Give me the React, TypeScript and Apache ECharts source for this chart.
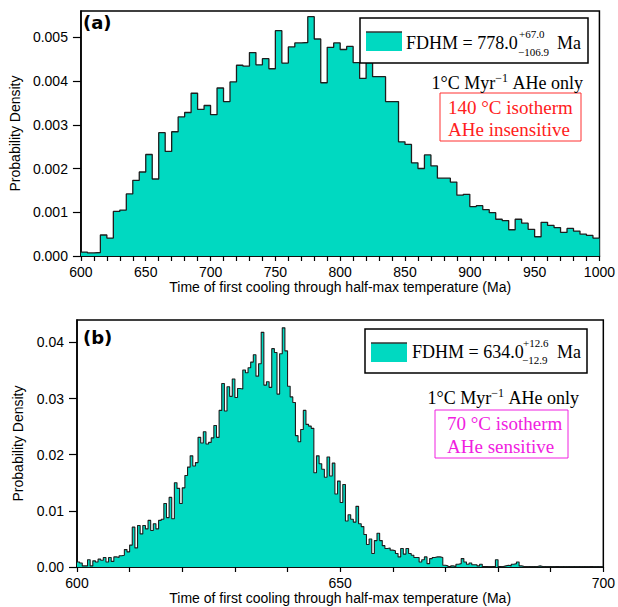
import React, { useRef, useEffect } from 'react'
import * as echarts from 'echarts'

// panel (a): 5 Ma bins from 600 to 1000
const binStartA = 600
const binWidthA = 5
const densityA = [
  0.00009, 0.00007, 0.00008, 0.00048, 0.00041, 0.00102, 0.00105, 0.00142, 0.00173, 0.00192,
  0.00232, 0.00176, 0.00282, 0.00239, 0.00284, 0.00318, 0.00328, 0.00372, 0.00335, 0.00344,
  0.00323, 0.00384, 0.00353, 0.00398, 0.00436, 0.00434, 0.00465, 0.00437, 0.00451, 0.00428,
  0.00515, 0.00441, 0.00478, 0.00487, 0.00488, 0.00547, 0.00496, 0.00396, 0.00477, 0.00487,
  0.00472, 0.00479, 0.00442, 0.00406, 0.00442, 0.0041, 0.0041, 0.00353, 0.00353, 0.00261,
  0.00255, 0.00213, 0.002, 0.00231, 0.00206, 0.00178, 0.00178, 0.00169, 0.00139, 0.00141,
  0.00113, 0.00115, 0.00106, 0.00099, 0.00084, 0.00081, 0.0006, 0.00084, 0.00075, 0.00061,
  0.00044, 0.00077, 0.0007, 0.00065, 0.00054, 0.00063, 0.00057, 0.0005, 0.00047, 0.00041,
]

// panel (b): 0.5 Ma bins from 600 to 700
const binStartB = 600
const binWidthB = 0.5
const densityB = [
  0.0009, 0.0007, 0.0002, 0.0002, 0.0013, 0.0002, 0.0011, 0.0009, 0.0014, 0.0012,
  0.0017, 0.0009, 0.0017, 0.001, 0.0018, 0.0017, 0.002, 0.0021, 0.0031, 0.0027,
  0.0039, 0.0071, 0.0034, 0.0074, 0.0059, 0.0074, 0.0068, 0.0083, 0.0065, 0.0077,
  0.0068, 0.0083, 0.0085, 0.0113, 0.0088, 0.0124, 0.0086, 0.015, 0.014, 0.0113,
  0.0141, 0.0163, 0.0178, 0.0198, 0.018, 0.0186, 0.0231, 0.0221, 0.0241, 0.0219,
  0.0222, 0.023, 0.0252, 0.0231, 0.0279, 0.0327, 0.0278, 0.0321, 0.0304, 0.0335,
  0.0302, 0.0318, 0.0317, 0.0351, 0.0346, 0.0355, 0.0365, 0.0378, 0.034, 0.0362,
  0.0418, 0.0324, 0.033, 0.032, 0.0389, 0.0382, 0.0308, 0.038, 0.0426, 0.0385,
  0.0322, 0.0303, 0.0293, 0.0234, 0.0223, 0.0245, 0.0279, 0.0254, 0.0251, 0.0247,
  0.0168, 0.0198, 0.0184, 0.0174, 0.016, 0.0196, 0.0162, 0.0185, 0.013, 0.0153,
  0.0115, 0.0147, 0.0082, 0.0093, 0.0085, 0.008, 0.0108, 0.0077, 0.0072, 0.0058,
  0.004, 0.005, 0.0024, 0.0047, 0.006, 0.0047, 0.0038, 0.0033, 0.0034, 0.003,
  0.0029, 0.0024, 0.0018, 0.0033, 0.0023, 0.0033, 0.0024, 0.0021, 0.0017, 0.0017,
  0.0009, 0.0013, 0.0018, 0.0006, 0.0015, 0.0017, 0.0018, 0.0018, 0.0017, 0.0003,
  0.0002, 0, 0.0002, 0.0001, 0.0005, 0.0006, 0.0015, 0.0009, 0.0005, 0.0007,
  0.0004, 0.0004, 0.0002, 0.0005, 0, 0, 0.0001, 0, 0, 0.0013,
  0, 0.0001, 0.0002, 0.0003, 0.0002, 0.0005, 0.0006, 0.0009, 0.0002, 0.0001,
  0.0001, 0, 0.0001, 0, 0.0001, 0.0002, 0.0001, 0, 0.0001, 0,
  0.0001, 0, 0, 0.0001, 0, 0.0001, 0, 0.0001, 0, 0.0001,
  0, 0.0001, 0, 0.0001, 0, 0, 0.0001, 0, 0.0001, 0,
]

const xTicksA = [600, 610, 620, 630, 640, 650, 660, 670, 680, 690, 700, 710, 720, 730, 740, 750, 760, 770, 780, 790,
  800, 810, 820, 830, 840, 850, 860, 870, 880, 890, 900, 910, 920, 930, 940, 950, 960, 970, 980, 990, 1000]
const xLabelsA = [600, 650, 700, 750, 800, 850, 900, 950, 1000]
const yTicksA = [0, 0.001, 0.002, 0.003, 0.004, 0.005]

const xTicksB = [600, 610, 620, 630, 640, 650, 660, 670, 680, 690, 700]
const xLabelsB = [600, 650, 700]
const yTicksB = [0, 0.01, 0.02, 0.03, 0.04]

const TEAL = '#00d9c1'
const SANS = '"Liberation Sans", Arial, sans-serif'
const SERIF = '"Liberation Serif", "Times New Roman", serif'

// step outline: points at bin left edges plus the closing right edge
const toSteps = (start: number, width: number, vals: number[]) => {
  const pts = vals.map((v, i) => [start + i * width, v])
  pts.push([start + vals.length * width, vals[vals.length - 1]])
  return pts
}

const App: React.FC = () => {
  const chartRef = useRef<HTMLDivElement>(null)

  useEffect(() => {
    document.body.style.margin = '0'
    if (!chartRef.current) return
    const chart = echarts.init(chartRef.current, undefined, { renderer: 'svg' })

    const xAxisBase = (min: number, max: number, ticks: number[], labels: number[], gridIndex: number) => ({
      type: 'value',
      gridIndex,
      min,
      max,
      name: 'Time of first cooling through half-max temperature (Ma)',
      nameLocation: 'middle',
      nameGap: 23,
      nameTextStyle: { fontFamily: SANS, fontSize: 14, color: '#000' },
      axisLine: { onZero: false, lineStyle: { color: '#000', width: 1.5 } },
      axisTick: { customValues: ticks, length: 5, lineStyle: { color: '#000', width: 1.2 } },
      axisLabel: {
        customValues: labels,
        fontFamily: SANS,
        fontSize: 14,
        color: '#000',
        margin: 9,
        formatter: (v: number) => String(v),
      },
      splitLine: { show: false },
    })

    const yAxisBase = (max: number, ticks: number[], digits: number, gridIndex: number) => ({
      type: 'value',
      gridIndex,
      min: 0,
      max,
      name: 'Probability Density',
      nameLocation: 'middle',
      nameGap: 52,
      nameTextStyle: { fontFamily: SANS, fontSize: 14, color: '#000' },
      axisLine: { show: true, lineStyle: { color: '#000', width: 1.5 } },
      axisTick: { show: true, customValues: ticks, length: 8, lineStyle: { color: '#000', width: 1.2 } },
      axisLabel: {
        customValues: ticks,
        fontFamily: SANS,
        fontSize: 14,
        color: '#000',
        margin: 13,
        formatter: (v: number) => v.toFixed(digits),
      },
      splitLine: { show: false },
    })

    const legendBox = (x: number, y: number, w: number, h: number) => [
      { type: 'rect', z: 100, shape: { x, y, width: w, height: h }, style: { fill: '#fff', stroke: '#000', lineWidth: 1.5 } },
      { type: 'rect', z: 101, shape: { x: x + 6, y: y + 14, width: 36, height: 19 }, style: { fill: TEAL } },
      { type: 'line', z: 102, shape: { x1: x + 6, y1: y + 14, x2: x + 42, y2: y + 14 }, style: { stroke: '#333', lineWidth: 1.5 } },
    ]

    const txt = (text: string, x: number, y: number, size: number, color = '#000', align = 'left') => ({
      type: 'text',
      z: 103,
      x,
      y,
      style: { text, fontFamily: SERIF, fontSize: size, fill: color, align, verticalAlign: 'middle' },
    })

    const rateText = (x: number, y: number) => ({
      type: 'text',
      z: 103,
      x,
      y,
      style: {
        text: '{n|1°C Myr}{s|−1}{n| AHe only}',
        align: 'right',
        verticalAlign: 'middle',
        rich: {
          n: { fontFamily: SERIF, fontSize: 18, fill: '#000', lineHeight: 20, verticalAlign: 'bottom' },
          s: { fontFamily: SERIF, fontSize: 12, fill: '#000', lineHeight: 20, verticalAlign: 'top' },
        },
      },
    })

    const option: any = {
      animation: false,
      backgroundColor: '#fff',
      grid: [
        { left: 77, top: 11, width: 528, height: 245, show: true, borderColor: '#000', borderWidth: 1.5, backgroundColor: 'transparent' },
        { left: 77, top: 320, width: 528, height: 247, show: true, borderColor: '#000', borderWidth: 1.5, backgroundColor: 'transparent' },
      ],
      xAxis: [
        xAxisBase(600, 1000, xTicksA, xLabelsA, 0),
        xAxisBase(600, 700, xTicksB, xLabelsB, 1),
      ],
      yAxis: [
        yAxisBase(0.0056, yTicksA, 3, 0),
        yAxisBase(0.044, yTicksB, 2, 1),
      ],
      series: [
        {
          type: 'line',
          xAxisIndex: 0,
          yAxisIndex: 0,
          step: 'end',
          symbol: 'none',
          data: toSteps(binStartA, binWidthA, densityA),
          lineStyle: { color: '#1e1e1e', width: 1.3 },
          areaStyle: { color: TEAL, opacity: 1 },
        },
        {
          type: 'line',
          xAxisIndex: 1,
          yAxisIndex: 1,
          step: 'end',
          symbol: 'none',
          data: toSteps(binStartB, binWidthB, densityB),
          lineStyle: { color: '#1e1e1e', width: 1.1 },
          areaStyle: { color: TEAL, opacity: 1 },
        },
      ],
      graphic: [
        { type: 'text', z: 103, x: 83, y: 13, style: { text: '(a)', fontFamily: '"DejaVu Sans", Verdana, sans-serif', fontWeight: 'bold', fontSize: 18, fill: '#000' } },
        { type: 'text', z: 103, x: 83, y: 328, style: { text: '(b)', fontFamily: '"DejaVu Sans", Verdana, sans-serif', fontWeight: 'bold', fontSize: 18, fill: '#000' } },

        ...legendBox(360, 18, 228, 45),
        txt('FDHM = 778.0', 406, 43, 18),
        txt('+67.0', 519, 34, 11),
        txt('−106.9', 518, 52, 11),
        txt('Ma', 581, 43, 18, '#000', 'right'),
        rateText(583, 82),
        { type: 'rect', z: 100, shape: { x: 440, y: 93, width: 141, height: 48 }, style: { fill: '#fff', stroke: '#ff3030', lineWidth: 1 } },
        txt('140 °C isotherm', 448, 107, 19, '#ff2020'),
        txt('AHe insensitive', 448, 129, 19, '#ff2020'),

        ...legendBox(365, 329, 222, 44),
        txt('FDHM = 634.0', 412, 352, 18),
        txt('+12.6', 523, 343, 11),
        txt('−12.9', 522, 360, 11),
        txt('Ma', 581, 352, 18, '#000', 'right'),
        rateText(579, 397),
        { type: 'rect', z: 100, shape: { x: 435, y: 410, width: 133, height: 48 }, style: { fill: '#fff', stroke: '#f020e0', lineWidth: 1 } },
        txt('70 °C isotherm', 447, 423, 19, '#f020e0'),
        txt('AHe sensitive', 447, 446, 19, '#f020e0'),
      ],
    }

    chart.setOption(option)
    return () => {
      chart.dispose()
    }
  }, [])

  return <div ref={chartRef} style={{ width: 618, height: 607 }} />
}

export default App
